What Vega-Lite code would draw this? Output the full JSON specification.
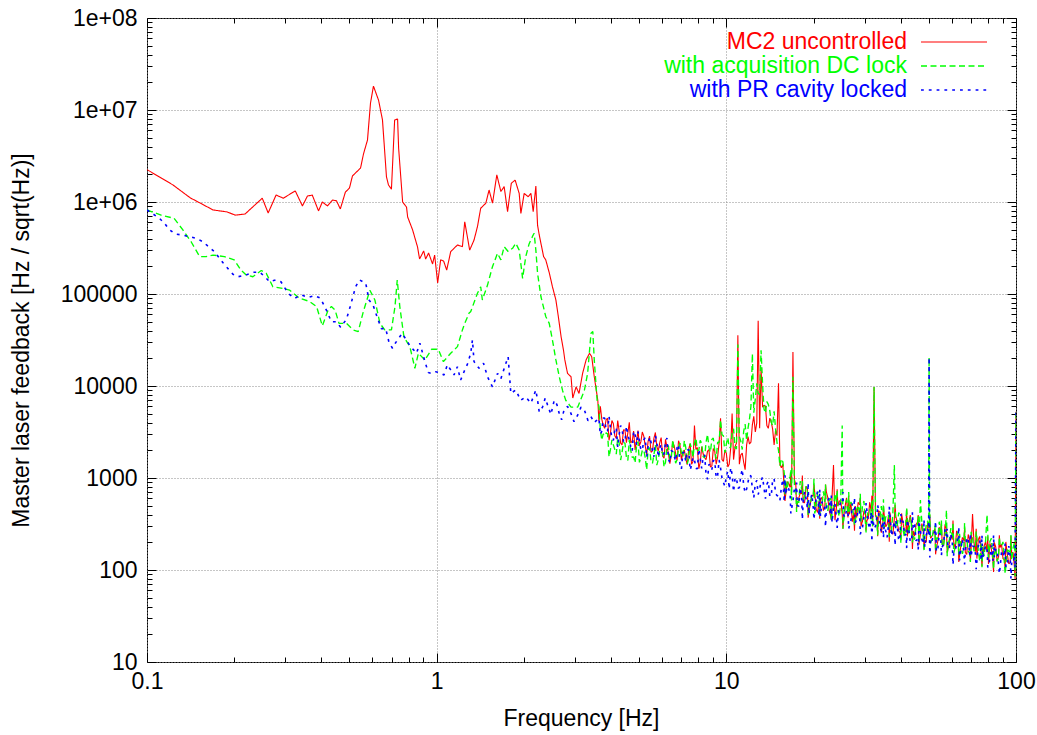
{
"$schema": "https://vega.github.io/schema/vega-lite/v6.json",
"width": 869, "height": 644,
"autosize": "none",
"padding": {"left": 147, "top": 18, "right": 21, "bottom": 73},
"background": "white",
"config": {"view": {"stroke": "black", "strokeWidth": 1}, "font": "Liberation Sans"},
"datasets": {
"red": [{"f":0.1,"v":2250000},{"f":0.123,"v":1530000},{"f":0.141,"v":1110000},{"f":0.1525,"v":975000},{"f":0.169,"v":820000},{"f":0.189,"v":780000},{"f":0.2016,"v":720000},{"f":0.218,"v":740000},{"f":0.25,"v":1100000},{"f":0.262,"v":760000},{"f":0.279,"v":1190000},{"f":0.2955,"v":1100000},{"f":0.325,"v":1320000},{"f":0.344,"v":906000},{"f":0.358,"v":1160000},{"f":0.372,"v":1190000},{"f":0.391,"v":800000},{"f":0.403,"v":1000000},{"f":0.42,"v":906000},{"f":0.437,"v":1050000},{"f":0.451,"v":1030000},{"f":0.465,"v":840000},{"f":0.484,"v":1280000},{"f":0.5,"v":1420000},{"f":0.512,"v":1920000},{"f":0.546,"v":2340000},{"f":0.559,"v":3330000},{"f":0.577,"v":4720000},{"f":0.591,"v":11900000},{"f":0.605,"v":18200000},{"f":0.63,"v":12800000},{"f":0.65,"v":7800000},{"f":0.671,"v":1870000},{"f":0.682,"v":1530000},{"f":0.698,"v":1380000},{"f":0.716,"v":7800000},{"f":0.733,"v":7980000},{"f":0.739,"v":3860000},{"f":0.763,"v":1000000},{"f":0.787,"v":880000},{"f":0.794,"v":687000},{"f":0.826,"v":497000},{"f":0.859,"v":324000},{"f":0.873,"v":240000},{"f":0.902,"v":294000},{"f":0.916,"v":240000},{"f":0.938,"v":279000},{"f":0.968,"v":212000},{"f":0.984,"v":265000},{"f":1.008,"v":132000},{"f":1.032,"v":235000},{"f":1.057,"v":228000},{"f":1.083,"v":182000},{"f":1.118,"v":288000},{"f":1.148,"v":314000},{"f":1.18,"v":341000},{"f":1.227,"v":327000},{"f":1.25,"v":610000},{"f":1.3,"v":300000},{"f":1.346,"v":386000},{"f":1.383,"v":540000},{"f":1.419,"v":855000},{"f":1.478,"v":970000},{"f":1.517,"v":1350000},{"f":1.559,"v":970000},{"f":1.613,"v":1970000},{"f":1.666,"v":1300000},{"f":1.71,"v":1470000},{"f":1.757,"v":785000},{"f":1.81,"v":1600000},{"f":1.866,"v":1730000},{"f":1.927,"v":1240000},{"f":1.953,"v":750000},{"f":2.005,"v":1240000},{"f":2.07,"v":1140000},{"f":2.115,"v":1240000},{"f":2.154,"v":785000},{"f":2.2,"v":1490000},{"f":2.23,"v":560000},{"f":2.26,"v":438000},{"f":2.34,"v":255000},{"f":2.38,"v":235000},{"f":2.45,"v":168000},{"f":2.51,"v":120000},{"f":2.58,"v":86000},{"f":2.63,"v":57000},{"f":2.69,"v":34000},{"f":2.74,"v":24600},{"f":2.77,"v":19200},{"f":2.83,"v":13700},{"f":2.91,"v":12600},{"f":2.95,"v":7400},{"f":3.03,"v":9800},{"f":3.1,"v":8300},{"f":3.19,"v":13700},{"f":3.28,"v":19200},{"f":3.37,"v":22700},{"f":3.43,"v":20800},{"f":3.5,"v":12600},{"f":3.6,"v":7000},
{"f":3.631,"v":4170},{"f":3.715,"v":4370},{"f":3.802,"v":3470},{"f":3.89,"v":4470},{"f":3.981,"v":3090},{"f":4.074,"v":3890},{"f":4.169,"v":2690},{"f":4.266,"v":3240},{"f":4.365,"v":2290},{"f":4.467,"v":3310},{"f":4.571,"v":3090},{"f":4.677,"v":2400},{"f":4.786,"v":3240},{"f":4.898,"v":2510},{"f":5.012,"v":2240},{"f":5.129,"v":3160},{"f":5.248,"v":2240},{"f":5.37,"v":2510},{"f":5.495,"v":1905},{"f":5.623,"v":2690},{"f":5.754,"v":2190},{"f":5.888,"v":2400},{"f":6.026,"v":1740},{"f":6.166,"v":2630},{"f":6.31,"v":1860},{"f":6.457,"v":1780},{"f":6.607,"v":2240},{"f":6.761,"v":1550},{"f":6.918,"v":2290},{"f":7.079,"v":1905},{"f":7.244,"v":1620},{"f":7.413,"v":2040},{"f":7.586,"v":1410},{"f":7.762,"v":3720},{"f":7.943,"v":2140},{"f":8.128,"v":1480},{"f":8.318,"v":1820},{"f":8.511,"v":1585},{"f":8.71,"v":2040},{"f":8.913,"v":1350},{"f":9.12,"v":1950},{"f":9.333,"v":1700},{"f":9.55,"v":4470},{"f":9.772,"v":1510},{"f":10.0,"v":1860},{"f":10.23,"v":1410},{"f":10.47,"v":5010},{"f":10.72,"v":2190},{"f":10.96,"v":35500},{"f":11.22,"v":1780},{"f":11.48,"v":1480},{"f":11.75,"v":2290},{"f":12.02,"v":2340},{"f":12.3,"v":3800},{"f":12.59,"v":3160},{"f":12.88,"v":51300},{"f":13.18,"v":15800},{"f":13.49,"v":6170},{"f":13.8,"v":3720},{"f":14.13,"v":4470},{"f":14.45,"v":3390},{"f":14.79,"v":3310},{"f":15.14,"v":10700},{"f":15.49,"v":1290},{"f":15.85,"v":708},{"f":16.22,"v":912},{"f":16.6,"v":794},{"f":16.98,"v":23400},{"f":17.38,"v":832},{"f":17.78,"v":603},{"f":18.2,"v":676},{"f":18.62,"v":537},{"f":19.05,"v":759},{"f":19.5,"v":525},{"f":19.95,"v":631},{"f":20.42,"v":457},{"f":20.89,"v":562},{"f":21.38,"v":617},{"f":21.88,"v":490},{"f":22.39,"v":617},{"f":22.91,"v":389},{"f":23.44,"v":1380},{"f":23.99,"v":468},{"f":24.55,"v":562},{"f":25.12,"v":407},{"f":25.7,"v":490},{"f":26.3,"v":372},{"f":26.92,"v":537},{"f":27.54,"v":417},{"f":28.18,"v":372},{"f":28.84,"v":513},{"f":29.51,"v":339},{"f":30.2,"v":437},{"f":30.9,"v":363},{"f":31.62,"v":437},{"f":32.36,"v":9770},{"f":33.11,"v":380},{"f":33.88,"v":427},{"f":34.67,"v":316},{"f":35.48,"v":295},{"f":36.31,"v":389},{"f":37.15,"v":257},{"f":38.02,"v":363},{"f":38.9,"v":324},{"f":39.81,"v":257},{"f":40.74,"v":324},{"f":41.69,"v":263},{"f":42.66,"v":331},{"f":43.65,"v":316},{"f":44.67,"v":234},{"f":45.71,"v":331},{"f":46.77,"v":245},{"f":47.86,"v":269},{"f":48.98,"v":200},{"f":50.12,"v":282},{"f":51.29,"v":234},{"f":52.48,"v":282},{"f":53.7,"v":204},{"f":54.95,"v":245},{"f":56.23,"v":182},{"f":57.54,"v":275},{"f":58.88,"v":195},{"f":60.26,"v":214},{"f":61.66,"v":170},{"f":63.1,"v":234},{"f":64.57,"v":186},{"f":66.07,"v":209},{"f":67.61,"v":148},{"f":69.18,"v":214},{"f":70.79,"v":407},{"f":72.44,"v":158},{"f":74.13,"v":214},{"f":75.86,"v":145},{"f":77.62,"v":182},{"f":79.43,"v":158},{"f":81.28,"v":195},{"f":83.18,"v":129},{"f":85.11,"v":178},{"f":87.1,"v":141},{"f":89.13,"v":191},{"f":91.2,"v":129},{"f":93.33,"v":148},{"f":95.5,"v":120},{"f":97.72,"v":155},{"f":99.3,"v":80},{"f":100,"v":5250},
{"f":3.673,"v":6030},{"f":3.758,"v":3760},{"f":3.846,"v":4315},{"f":3.936,"v":2570},{"f":4.027,"v":4217},{"f":4.121,"v":2884},{"f":4.217,"v":4217},{"f":4.315,"v":2399},{"f":4.416,"v":3350},{"f":4.519,"v":2427},{"f":4.624,"v":4027},{"f":4.732,"v":2512},{"f":4.842,"v":2018},{"f":4.955,"v":3273},{"f":5.07,"v":2483},{"f":5.188,"v":2851},{"f":5.309,"v":1799},{"f":5.433,"v":2851},{"f":5.559,"v":1972},{"f":5.689,"v":3126},{"f":5.821,"v":1972},{"f":5.957,"v":2754},{"f":6.095,"v":1641},{"f":6.237,"v":2163},{"f":6.383,"v":1429},{"f":6.531,"v":2483},{"f":6.683,"v":1841},{"f":6.839,"v":2541},{"f":6.998,"v":1567},{"f":7.161,"v":2018},{"f":7.328,"v":1396},{"f":7.499,"v":2371},{"f":7.674,"v":1514},{"f":7.852,"v":2042},{"f":8.035,"v":1259},{"f":8.222,"v":2188},{"f":8.414,"v":1660},{"f":8.61,"v":1950},{"f":8.81,"v":1318},{"f":9.016,"v":2089},{"f":9.226,"v":1413},{"f":9.441,"v":2399},{"f":9.661,"v":1585},{"f":9.886,"v":1995},
{"f":10.12,"v":1320},{"f":10.35,"v":2090},{"f":10.59,"v":1585},{"f":10.84,"v":2400},{"f":11.09,"v":1413},{"f":11.35,"v":1862},{"f":11.61,"v":1230},{"f":11.88,"v":2818},{"f":12.16,"v":2455},{"f":12.44,"v":4677},{"f":12.74,"v":3981},{"f":13.03,"v":3467},{"f":13.34,"v":5888},{"f":13.65,"v":6026},{"f":13.96,"v":3467},{"f":14.29,"v":4074},{"f":14.62,"v":2291},{"f":14.96,"v":2884},{"f":15.31,"v":1413},{"f":15.67,"v":1413},{"f":16.03,"v":661},{"f":16.41,"v":871},{"f":16.79,"v":661},{"f":17.18,"v":966},{"f":17.58,"v":519},{"f":17.99,"v":684},{"f":18.41,"v":543},{"f":18.84,"v":813},{"f":19.28,"v":432},{"f":19.73,"v":653},{"f":20.19,"v":700},{"f":20.65,"v":422},{"f":21.13,"v":582},{"f":21.63,"v":442},{"f":22.13,"v":716},{"f":22.65,"v":442},{"f":23.17,"v":624},{"f":23.71,"v":347},{"f":24.27,"v":495},{"f":24.83,"v":569},{"f":25.41,"v":376},{"f":26.0,"v":610},{"f":26.61,"v":403},{"f":27.23,"v":335},{"f":27.86,"v":495},{"f":28.51,"v":543},{"f":29.17,"v":299},{"f":29.85,"v":437},{"f":30.55,"v":343},{"f":31.26,"v":543},{"f":31.99,"v":299},{"f":32.73,"v":385},{"f":33.5,"v":442},{"f":34.28,"v":254},{"f":35.08,"v":394},{"f":35.89,"v":313},{"f":36.73,"v":422},{"f":37.58,"v":245},{"f":38.46,"v":385},{"f":39.36,"v":266},{"f":40.27,"v":412},{"f":41.21,"v":266},{"f":42.17,"v":232},{"f":43.15,"v":394},{"f":44.16,"v":266},{"f":45.19,"v":313},{"f":46.24,"v":188},{"f":47.32,"v":320},{"f":48.42,"v":211},{"f":49.55,"v":327},{"f":50.7,"v":221},{"f":51.88,"v":254},{"f":53.09,"v":174},{"f":54.33,"v":292},{"f":55.59,"v":197},{"f":56.89,"v":313},{"f":58.21,"v":168},{"f":59.57,"v":237},{"f":60.95,"v":202},{"f":62.37,"v":266},{"f":63.83,"v":143},{"f":65.31,"v":226},{"f":66.83,"v":155},{"f":68.39,"v":243},{"f":69.98,"v":172},{"f":71.61,"v":197},{"f":73.28,"v":133},{"f":74.99,"v":232},{"f":76.74,"v":145},{"f":78.52,"v":202},{"f":80.35,"v":116},{"f":82.22,"v":168},{"f":84.14,"v":200},{"f":86.1,"v":124},{"f":88.1,"v":176},{"f":90.16,"v":133},{"f":92.26,"v":202},{"f":94.41,"v":117},{"f":96.6,"v":153},{"f":98.86,"v":104},
{"f":15.94,"v":562},{"f":16.7,"v":1148},{"f":17.48,"v":468},{"f":18.3,"v":1067},{"f":19.16,"v":370},{"f":20.07,"v":847},{"f":21.01,"v":361},{"f":22.0,"v":847},{"f":23.04,"v":353},{"f":24.13,"v":755},{"f":25.27,"v":281},{"f":26.45,"v":643},{"f":27.7,"v":268},{"f":29.0,"v":614},{"f":30.37,"v":268},{"f":31.8,"v":643},{"f":33.3,"v":233},{"f":34.87,"v":488},{"f":36.52,"v":203},{"f":38.24,"v":511},{"f":40.04,"v":213},{"f":41.93,"v":455},{"f":43.9,"v":169},{"f":45.97,"v":396},{"f":48.14,"v":169},{"f":50.41,"v":396},{"f":52.78,"v":148},{"f":55.27,"v":330},{"f":57.87,"v":154},{"f":60.6,"v":345},{"f":63.46,"v":122},{"f":66.45,"v":288},{"f":69.58,"v":125},{"f":72.86,"v":281},{"f":76.3,"v":110},{"f":79.89,"v":233},{"f":83.66,"v":95},{"f":87.6,"v":239},{"f":91.73,"v":102},{"f":96.05,"v":234}],
"green": [{"f":0.1,"v":820000},{"f":0.1118,"v":720000},{"f":0.124,"v":665000},{"f":0.133,"v":497000},{"f":0.142,"v":370000},{"f":0.152,"v":255000},{"f":0.16,"v":255000},{"f":0.169,"v":265000},{"f":0.185,"v":255000},{"f":0.2,"v":235000},{"f":0.211,"v":182000},{"f":0.22,"v":161000},{"f":0.232,"v":154000},{"f":0.248,"v":180000},{"f":0.258,"v":168000},{"f":0.272,"v":120000},{"f":0.295,"v":115000},{"f":0.311,"v":110000},{"f":0.336,"v":90000},{"f":0.364,"v":83000},{"f":0.385,"v":73000},{"f":0.403,"v":45000},{"f":0.422,"v":67000},{"f":0.433,"v":73000},{"f":0.446,"v":67000},{"f":0.46,"v":48000},{"f":0.488,"v":48000},{"f":0.515,"v":40700},{"f":0.536,"v":39000},{"f":0.558,"v":64000},{"f":0.588,"v":110000},{"f":0.612,"v":86000},{"f":0.637,"v":48000},{"f":0.662,"v":40700},{"f":0.698,"v":40700},{"f":0.718,"v":73000},{"f":0.731,"v":142000},{"f":0.746,"v":73000},{"f":0.771,"v":34000},{"f":0.808,"v":26800},{"f":0.841,"v":15600},{"f":0.865,"v":22700},{"f":0.911,"v":19200},{"f":0.961,"v":25100},{"f":1.013,"v":25100},{"f":1.055,"v":18400},{"f":1.118,"v":22700},{"f":1.18,"v":26800},{"f":1.227,"v":40700},{"f":1.25,"v":48000},{"f":1.294,"v":62000},{"f":1.31,"v":64000},{"f":1.383,"v":102000},{"f":1.419,"v":120000},{"f":1.438,"v":86000},{"f":1.498,"v":125000},{"f":1.558,"v":198000},{"f":1.622,"v":277000},{"f":1.666,"v":235000},{"f":1.71,"v":327000},{"f":1.765,"v":290000},{"f":1.828,"v":314000},{"f":1.876,"v":356000},{"f":1.927,"v":300000},{"f":1.98,"v":148000},{"f":2.03,"v":255000},{"f":2.085,"v":350000},{"f":2.14,"v":420000},{"f":2.17,"v":457000},{"f":2.2,"v":300000},{"f":2.23,"v":168000},{"f":2.29,"v":94000},{"f":2.38,"v":57000},{"f":2.447,"v":48000},{"f":2.51,"v":31600},{"f":2.58,"v":19200},{"f":2.65,"v":12600},{"f":2.72,"v":8950},{"f":2.79,"v":7000},{"f":2.91,"v":5900},{"f":3.07,"v":5900},{"f":3.235,"v":8950},{"f":3.32,"v":13700},{"f":3.41,"v":37400},{"f":3.46,"v":39000},{"f":3.5,"v":19200},{"f":3.58,"v":7000},
{"f":3.631,"v":6030},{"f":3.715,"v":2570},{"f":3.802,"v":2880},{"f":3.89,"v":3020},{"f":3.981,"v":2040},{"f":4.074,"v":2290},{"f":4.169,"v":1820},{"f":4.266,"v":2400},{"f":4.365,"v":1905},{"f":4.467,"v":2400},{"f":4.571,"v":1550},{"f":4.677,"v":2000},{"f":4.786,"v":1700},{"f":4.898,"v":2240},{"f":5.012,"v":1480},{"f":5.129,"v":2000},{"f":5.248,"v":1660},{"f":5.37,"v":2040},{"f":5.495,"v":1510},{"f":5.623,"v":1780},{"f":5.754,"v":1380},{"f":5.888,"v":2000},{"f":6.026,"v":1905},{"f":6.166,"v":1480},{"f":6.31,"v":2240},{"f":6.457,"v":1660},{"f":6.607,"v":1950},{"f":6.761,"v":1585},{"f":6.918,"v":2400},{"f":7.079,"v":1700},{"f":7.244,"v":2140},{"f":7.413,"v":1620},{"f":7.586,"v":2090},{"f":7.762,"v":2400},{"f":7.943,"v":2000},{"f":8.128,"v":2570},{"f":8.318,"v":1700},{"f":8.511,"v":2450},{"f":8.71,"v":2140},{"f":8.913,"v":2630},{"f":9.12,"v":2000},{"f":9.333,"v":2450},{"f":9.55,"v":4270},{"f":9.772,"v":2880},{"f":10.0,"v":2340},{"f":10.23,"v":2140},{"f":10.47,"v":3090},{"f":10.72,"v":2140},{"f":10.96,"v":28200},{"f":11.22,"v":2510},{"f":11.48,"v":3240},{"f":11.75,"v":2570},{"f":12.02,"v":4370},{"f":12.3,"v":22400},{"f":12.59,"v":7240},{"f":12.88,"v":8320},{"f":13.18,"v":24500},{"f":13.49,"v":5620},{"f":13.8,"v":6760},{"f":14.13,"v":5370},{"f":14.45,"v":3720},{"f":14.79,"v":3390},{"f":15.14,"v":2000},{"f":15.49,"v":1620},{"f":15.85,"v":1120},{"f":16.22,"v":759},{"f":16.6,"v":1020},{"f":16.98,"v":12600},{"f":17.38,"v":724},{"f":17.78,"v":537},{"f":18.2,"v":759},{"f":18.62,"v":631},{"f":19.05,"v":741},{"f":19.5,"v":525},{"f":19.95,"v":631},{"f":20.42,"v":468},{"f":20.89,"v":708},{"f":21.38,"v":501},{"f":21.88,"v":550},{"f":22.39,"v":437},{"f":22.91,"v":603},{"f":23.44,"v":479},{"f":23.99,"v":550},{"f":24.55,"v":380},{"f":25.12,"v":3720},{"f":25.7,"v":468},{"f":26.3,"v":407},{"f":26.92,"v":550},{"f":27.54,"v":372},{"f":28.18,"v":457},{"f":28.84,"v":398},{"f":29.51,"v":490},{"f":30.2,"v":331},{"f":30.9,"v":447},{"f":31.62,"v":355},{"f":32.36,"v":9770},{"f":33.11,"v":324},{"f":33.88,"v":372},{"f":34.67,"v":295},{"f":35.48,"v":380},{"f":36.31,"v":398},{"f":37.15,"v":263},{"f":38.02,"v":1380},{"f":38.9,"v":302},{"f":39.81,"v":389},{"f":40.74,"v":275},{"f":41.69,"v":347},{"f":42.66,"v":245},{"f":43.65,"v":295},{"f":44.67,"v":214},{"f":45.71,"v":309},{"f":46.77,"v":575},{"f":47.86,"v":224},{"f":48.98,"v":309},{"f":49.95,"v":250},{"f":50.12,"v":20400},{"f":50.3,"v":230},{"f":51.29,"v":214},{"f":52.48,"v":302},{"f":53.7,"v":219},{"f":54.95,"v":245},{"f":56.23,"v":186},{"f":57.54,"v":447},{"f":58.88,"v":214},{"f":60.26,"v":234},{"f":61.66,"v":174},{"f":63.1,"v":263},{"f":64.57,"v":186},{"f":66.07,"v":170},{"f":67.61,"v":219},{"f":69.18,"v":151},{"f":70.79,"v":224},{"f":72.44,"v":186},{"f":74.13,"v":158},{"f":75.86,"v":200},{"f":77.62,"v":141},{"f":79.43,"v":398},{"f":81.28,"v":204},{"f":83.18,"v":138},{"f":85.11,"v":170},{"f":87.1,"v":145},{"f":89.13,"v":182},{"f":91.2,"v":117},{"f":93.33,"v":166},{"f":95.5,"v":145},{"f":97.72,"v":174},{"f":99.3,"v":85},{"f":100,"v":5250},
{"f":3.673,"v":3350},{"f":3.758,"v":3020},{"f":3.846,"v":3090},{"f":3.936,"v":1698},{"f":4.027,"v":2600},{"f":4.121,"v":2042},{"f":4.217,"v":2723},{"f":4.315,"v":1567},{"f":4.416,"v":2427},{"f":4.519,"v":1679},{"f":4.624,"v":2600},{"f":4.732,"v":1679},{"f":4.842,"v":1462},{"f":4.955,"v":2483},{"f":5.07,"v":1698},{"f":5.188,"v":2018},{"f":5.309,"v":1230},{"f":5.433,"v":2138},{"f":5.559,"v":1445},{"f":5.689,"v":2291},{"f":5.821,"v":1585},{"f":5.957,"v":1884},{"f":6.095,"v":1318},{"f":6.237,"v":2265},{"f":6.383,"v":1585},{"f":6.531,"v":2600},{"f":6.683,"v":1445},{"f":6.839,"v":2113},{"f":6.998,"v":1862},{"f":7.161,"v":2541},{"f":7.328,"v":1429},{"f":7.499,"v":2371},{"f":7.674,"v":1679},{"f":7.852,"v":2723},{"f":8.035,"v":1995},{"f":8.222,"v":2371},{"f":8.414,"v":1660},{"f":8.61,"v":2985},{"f":8.81,"v":1905},{"f":9.016,"v":2723},{"f":9.226,"v":1622},{"f":9.441,"v":2427},{"f":9.661,"v":2951},{"f":9.886,"v":1884},
{"f":10.12,"v":2750},{"f":10.35,"v":2160},{"f":10.59,"v":3430},{"f":10.84,"v":2070},{"f":11.09,"v":2820},{"f":11.35,"v":2040},{"f":11.61,"v":3850},{"f":11.88,"v":3470},{"f":12.16,"v":6030},{"f":12.44,"v":5130},{"f":12.74,"v":10700},{"f":13.03,"v":8040},{"f":13.34,"v":10470},{"f":13.65,"v":5070},{"f":13.96,"v":6310},{"f":14.29,"v":4030},{"f":14.62,"v":5310},{"f":14.96,"v":2430},{"f":15.31,"v":1350},{"f":15.67,"v":1500},{"f":16.03,"v":923},{"f":16.41,"v":989},{"f":16.79,"v":569},{"f":17.18,"v":841},{"f":17.58,"v":582},{"f":17.99,"v":923},{"f":18.41,"v":582},{"f":18.84,"v":813},{"f":19.28,"v":484},{"f":19.73,"v":638},{"f":20.19,"v":412},{"f":20.65,"v":700},{"f":21.13,"v":519},{"f":21.63,"v":716},{"f":22.13,"v":442},{"f":22.65,"v":569},{"f":23.17,"v":394},{"f":23.71,"v":676},{"f":24.27,"v":432},{"f":24.83,"v":569},{"f":25.41,"v":343},{"f":26.0,"v":582},{"f":26.61,"v":432},{"f":27.23,"v":495},{"f":27.86,"v":327},{"f":28.51,"v":507},{"f":29.17,"v":335},{"f":29.85,"v":562},{"f":30.55,"v":367},{"f":31.26,"v":452},{"f":31.99,"v":292},{"f":32.73,"v":452},{"f":33.5,"v":335},{"f":34.28,"v":495},{"f":35.08,"v":285},{"f":35.89,"v":367},{"f":36.73,"v":237},{"f":37.58,"v":417},{"f":38.46,"v":285},{"f":39.36,"v":422},{"f":40.27,"v":299},{"f":41.21,"v":226},{"f":42.17,"v":351},{"f":43.15,"v":376},{"f":44.16,"v":237},{"f":45.19,"v":305},{"f":46.24,"v":197},{"f":47.32,"v":327},{"f":48.42,"v":232},{"f":49.55,"v":343},{"f":50.7,"v":197},{"f":51.88,"v":279},{"f":53.09,"v":224},{"f":54.33,"v":335},{"f":55.59,"v":180},{"f":56.89,"v":237},{"f":58.21,"v":188},{"f":59.57,"v":285},{"f":60.95,"v":153},{"f":62.37,"v":232},{"f":63.83,"v":248},{"f":65.31,"v":150},{"f":66.83,"v":209},{"f":68.39,"v":160},{"f":69.98,"v":260},{"f":71.61,"v":160},{"f":73.28,"v":226},{"f":74.99,"v":124},{"f":76.74,"v":178},{"f":78.52,"v":207},{"f":80.35,"v":136},{"f":82.22,"v":221},{"f":84.14,"v":148},{"f":86.1,"v":124},{"f":88.1,"v":184},{"f":90.16,"v":202},{"f":92.26,"v":111},{"f":94.41,"v":162},{"f":96.6,"v":127},{"f":98.86,"v":202},
{"f":15.94,"v":661},{"f":16.7,"v":1230},{"f":17.48,"v":427},{"f":18.3,"v":929},{"f":19.16,"v":396},{"f":20.07,"v":973},{"f":21.01,"v":387},{"f":22.0,"v":847},{"f":23.04,"v":337},{"f":24.13,"v":738},{"f":25.27,"v":281},{"f":26.45,"v":705},{"f":27.7,"v":308},{"f":29.0,"v":673},{"f":30.37,"v":256},{"f":31.8,"v":560},{"f":33.3,"v":239},{"f":34.87,"v":586},{"f":36.52,"v":228},{"f":38.24,"v":499},{"f":40.04,"v":194},{"f":41.93,"v":476},{"f":43.9,"v":199},{"f":45.97,"v":387},{"f":48.14,"v":158},{"f":50.41,"v":406},{"f":52.78,"v":158},{"f":55.27,"v":345},{"f":57.87,"v":141},{"f":60.6,"v":330},{"f":63.46,"v":144},{"f":66.45,"v":324},{"f":69.58,"v":122},{"f":72.86,"v":262},{"f":76.3,"v":107},{"f":79.89,"v":262},{"f":83.66,"v":102},{"f":87.6,"v":228},{"f":91.73,"v":91},{"f":96.05,"v":240}],
"blue": [{"f":0.1,"v":820000},{"f":0.105,"v":740000},{"f":0.1103,"v":665000},{"f":0.1148,"v":590000},{"f":0.119,"v":506000},{"f":0.125,"v":450000},{"f":0.132,"v":438000},{"f":0.14,"v":420000},{"f":0.148,"v":403000},{"f":0.156,"v":370000},{"f":0.162,"v":333000},{"f":0.171,"v":288000},{"f":0.177,"v":250000},{"f":0.183,"v":219000},{"f":0.19,"v":190000},{"f":0.198,"v":164000},{"f":0.206,"v":154000},{"f":0.22,"v":161000},{"f":0.231,"v":172000},{"f":0.245,"v":173000},{"f":0.255,"v":154000},{"f":0.265,"v":136000},{"f":0.278,"v":142000},{"f":0.29,"v":136000},{"f":0.307,"v":102000},{"f":0.323,"v":89700},{"f":0.341,"v":98000},{"f":0.36,"v":92000},{"f":0.379,"v":96000},{"f":0.397,"v":90000},{"f":0.417,"v":66000},{"f":0.433,"v":50000},{"f":0.451,"v":50000},{"f":0.466,"v":43500},{"f":0.488,"v":53000},{"f":0.503,"v":73000},{"f":0.525,"v":120000},{"f":0.542,"v":142000},{"f":0.569,"v":131000},{"f":0.584,"v":86000},{"f":0.603,"v":76000},{"f":0.622,"v":57000},{"f":0.644,"v":42000},{"f":0.667,"v":42000},{"f":0.685,"v":29600},{"f":0.704,"v":25700},{"f":0.722,"v":29600},{"f":0.76,"v":37400},{"f":0.808,"v":27500},{"f":0.852,"v":22700},{"f":0.875,"v":29200},{"f":0.911,"v":18400},{"f":0.936,"v":14000},{"f":0.961,"v":13700},{"f":0.99,"v":14300},{"f":1.02,"v":14000},{"f":1.06,"v":13200},{"f":1.089,"v":17000},{"f":1.148,"v":13200},{"f":1.179,"v":16200},{"f":1.21,"v":11600},{"f":1.243,"v":14300},{"f":1.277,"v":17300},{"f":1.311,"v":22700},{"f":1.329,"v":31600},{"f":1.346,"v":18400},{"f":1.4,"v":15600},{"f":1.451,"v":17700},{"f":1.498,"v":12600},{"f":1.558,"v":9800},{"f":1.622,"v":13700},{"f":1.666,"v":12000},{"f":1.734,"v":17700},{"f":1.765,"v":20800},{"f":1.803,"v":8300},{"f":1.876,"v":9050},{"f":1.95,"v":7000},{"f":2.03,"v":7600},{"f":2.115,"v":6500},{"f":2.2,"v":9050},{"f":2.23,"v":7000},{"f":2.26,"v":5200},{"f":2.32,"v":5900},{"f":2.37,"v":7400},{"f":2.415,"v":6200},{"f":2.48,"v":4900},{"f":2.546,"v":7000},{"f":2.6,"v":6300},{"f":2.65,"v":5000},{"f":2.7,"v":4300},{"f":2.757,"v":5600},{"f":2.83,"v":6000},{"f":2.91,"v":5000},{"f":2.98,"v":4100},{"f":3.07,"v":4850},{"f":3.15,"v":5900},{"f":3.235,"v":5500},{"f":3.33,"v":4200},{"f":3.41,"v":4650},{"f":3.5,"v":4000},
{"f":3.631,"v":4470},{"f":3.715,"v":3240},{"f":3.802,"v":4470},{"f":3.89,"v":3240},{"f":3.981,"v":3470},{"f":4.074,"v":2570},{"f":4.169,"v":3550},{"f":4.266,"v":2950},{"f":4.365,"v":3470},{"f":4.467,"v":2450},{"f":4.571,"v":2950},{"f":4.677,"v":2190},{"f":4.786,"v":3240},{"f":4.898,"v":2290},{"f":5.012,"v":2510},{"f":5.129,"v":2000},{"f":5.248,"v":2750},{"f":5.37,"v":2190},{"f":5.495,"v":2450},{"f":5.623,"v":1700},{"f":5.754,"v":2450},{"f":5.888,"v":2090},{"f":6.026,"v":1780},{"f":6.166,"v":2400},{"f":6.31,"v":1620},{"f":6.457,"v":2000},{"f":6.607,"v":1740},{"f":6.761,"v":2140},{"f":6.918,"v":1410},{"f":7.079,"v":1905},{"f":7.244,"v":1510},{"f":7.413,"v":2040},{"f":7.586,"v":1380},{"f":7.762,"v":1585},{"f":7.943,"v":1260},{"f":8.128,"v":1620},{"f":8.318,"v":1700},{"f":8.511,"v":1100},{"f":8.71,"v":1410},{"f":8.913,"v":1230},{"f":9.12,"v":1550},{"f":9.333,"v":1070},{"f":9.55,"v":1290},{"f":9.772,"v":891},{"f":10.0,"v":1050},{"f":10.23,"v":759},{"f":10.47,"v":1100},{"f":10.72,"v":1000},{"f":10.96,"v":776},{"f":11.22,"v":1070},{"f":11.48,"v":832},{"f":11.75,"v":759},{"f":12.02,"v":1070},{"f":12.3,"v":776},{"f":12.59,"v":871},{"f":12.88,"v":661},{"f":13.18,"v":933},{"f":13.49,"v":776},{"f":13.8,"v":851},{"f":14.13,"v":631},{"f":14.45,"v":955},{"f":14.79,"v":676},{"f":15.14,"v":631},{"f":15.49,"v":794},{"f":15.85,"v":550},{"f":16.22,"v":813},{"f":16.6,"v":676},{"f":16.98,"v":562},{"f":17.38,"v":708},{"f":17.78,"v":490},{"f":18.2,"v":631},{"f":18.62,"v":708},{"f":19.05,"v":468},{"f":19.5,"v":562},{"f":19.95,"v":479},{"f":20.42,"v":603},{"f":20.89,"v":389},{"f":21.38,"v":550},{"f":21.88,"v":468},{"f":22.39,"v":562},{"f":22.91,"v":398},{"f":23.44,"v":479},{"f":23.99,"v":363},{"f":24.55,"v":479},{"f":25.12,"v":537},{"f":25.7,"v":372},{"f":26.3,"v":417},{"f":26.92,"v":339},{"f":27.54,"v":447},{"f":28.18,"v":355},{"f":28.84,"v":447},{"f":29.51,"v":288},{"f":30.2,"v":380},{"f":30.9,"v":324},{"f":31.62,"v":427},{"f":32.36,"v":282},{"f":33.11,"v":372},{"f":33.88,"v":309},{"f":34.67,"v":372},{"f":35.48,"v":269},{"f":36.31,"v":309},{"f":37.15,"v":234},{"f":38.02,"v":339},{"f":38.9,"v":309},{"f":39.81,"v":234},{"f":40.74,"v":339},{"f":41.69,"v":245},{"f":42.66,"v":275},{"f":43.65,"v":219},{"f":44.67,"v":316},{"f":45.71,"v":219},{"f":46.77,"v":263},{"f":47.86,"v":191},{"f":48.98,"v":234},{"f":49.95,"v":240},{"f":50.12,"v":20400},{"f":50.3,"v":215},{"f":51.29,"v":204},{"f":52.48,"v":257},{"f":53.7,"v":166},{"f":54.95,"v":234},{"f":56.23,"v":195},{"f":57.54,"v":234},{"f":58.88,"v":170},{"f":60.26,"v":204},{"f":61.66,"v":155},{"f":63.1,"v":224},{"f":64.57,"v":174},{"f":66.07,"v":155},{"f":67.61,"v":219},{"f":69.18,"v":145},{"f":70.79,"v":182},{"f":72.44,"v":151},{"f":74.13,"v":182},{"f":75.86,"v":126},{"f":77.62,"v":162},{"f":79.43,"v":182},{"f":81.28,"v":135},{"f":83.18,"v":126},{"f":85.11,"v":170},{"f":87.1,"v":112},{"f":89.13,"v":155},{"f":91.2,"v":138},{"f":93.33,"v":110},{"f":95.5,"v":141},{"f":97.72,"v":115},{"f":99.3,"v":105},{"f":100,"v":5250},
{"f":3.673,"v":2950},{"f":3.758,"v":4470},{"f":3.846,"v":3240},{"f":3.936,"v":4680},{"f":4.027,"v":2660},{"f":4.121,"v":3390},{"f":4.217,"v":2160},{"f":4.315,"v":3720},{"f":4.416,"v":2480},{"f":4.519,"v":3670},{"f":4.624,"v":2600},{"f":4.732,"v":1950},{"f":4.842,"v":2990},{"f":4.955,"v":3200},{"f":5.07,"v":2020},{"f":5.188,"v":2600},{"f":5.309,"v":1680},{"f":5.433,"v":2790},{"f":5.559,"v":1970},{"f":5.689,"v":2920},{"f":5.821,"v":1680},{"f":5.957,"v":2340},{"f":6.095,"v":1840},{"f":6.237,"v":2720},{"f":6.383,"v":1460},{"f":6.531,"v":1930},{"f":6.683,"v":1530},{"f":6.839,"v":2320},{"f":6.998,"v":1245},{"f":7.161,"v":1880},{"f":7.328,"v":2020},{"f":7.499,"v":1220},{"f":7.674,"v":1680},{"f":7.852,"v":1270},{"f":8.035,"v":2070},{"f":8.222,"v":1270},{"f":8.414,"v":1780},{"f":8.61,"v":966},{"f":8.81,"v":1365},{"f":9.016,"v":1550},{"f":9.226,"v":1000},{"f":9.441,"v":1570},{"f":9.661,"v":1000},{"f":9.886,"v":813},
{"f":10.12,"v":1190},{"f":10.35,"v":1300},{"f":10.59,"v":708},{"f":10.84,"v":1010},{"f":11.09,"v":785},{"f":11.35,"v":1245},{"f":11.61,"v":692},{"f":11.88,"v":902},{"f":12.16,"v":1050},{"f":12.44,"v":610},{"f":12.74,"v":944},{"f":13.03,"v":750},{"f":13.34,"v":1020},{"f":13.65,"v":596},{"f":13.96,"v":923},{"f":14.29,"v":638},{"f":14.62,"v":989},{"f":14.96,"v":646},{"f":15.31,"v":569},{"f":15.67,"v":966},{"f":16.03,"v":653},{"f":16.41,"v":767},{"f":16.79,"v":457},{"f":17.18,"v":767},{"f":17.58,"v":507},{"f":17.99,"v":785},{"f":18.41,"v":531},{"f":18.84,"v":603},{"f":19.28,"v":403},{"f":19.73,"v":668},{"f":20.19,"v":452},{"f":20.65,"v":716},{"f":21.13,"v":385},{"f":21.63,"v":543},{"f":22.13,"v":462},{"f":22.65,"v":610},{"f":23.17,"v":327},{"f":23.71,"v":525},{"f":24.27,"v":359},{"f":24.83,"v":556},{"f":25.41,"v":394},{"f":26.0,"v":452},{"f":26.61,"v":305},{"f":27.23,"v":531},{"f":27.86,"v":327},{"f":28.51,"v":452},{"f":29.17,"v":260},{"f":29.85,"v":380},{"f":30.55,"v":452},{"f":31.26,"v":279},{"f":31.99,"v":394},{"f":32.73,"v":299},{"f":33.5,"v":452},{"f":34.28,"v":260},{"f":35.08,"v":335},{"f":35.89,"v":226},{"f":36.73,"v":385},{"f":37.58,"v":282},{"f":38.46,"v":343},{"f":39.36,"v":207},{"f":40.27,"v":343},{"f":41.21,"v":237},{"f":42.17,"v":351},{"f":43.15,"v":202},{"f":44.16,"v":285},{"f":45.19,"v":207},{"f":46.24,"v":343},{"f":47.32,"v":216},{"f":48.42,"v":176},{"f":49.55,"v":285},{"f":50.7,"v":216},{"f":51.88,"v":248},{"f":53.09,"v":158},{"f":54.33,"v":254},{"f":55.59,"v":176},{"f":56.89,"v":279},{"f":58.21,"v":176},{"f":59.57,"v":248},{"f":60.95,"v":150},{"f":62.37,"v":197},{"f":63.83,"v":127},{"f":65.31,"v":216},{"f":66.83,"v":162},{"f":68.39,"v":226},{"f":69.98,"v":140},{"f":71.61,"v":180},{"f":73.28,"v":124},{"f":74.99,"v":211},{"f":76.74,"v":135},{"f":78.52,"v":180},{"f":80.35,"v":108},{"f":82.22,"v":184},{"f":84.14,"v":138},{"f":86.1,"v":160},{"f":88.1,"v":106},{"f":90.16,"v":164},{"f":92.26,"v":108},{"f":94.41,"v":182},{"f":96.6,"v":119},{"f":98.86,"v":146},
{"f":15.94,"v":1072},{"f":16.7,"v":412},{"f":17.48,"v":891},{"f":18.3,"v":353},{"f":19.16,"v":887},{"f":20.07,"v":353},{"f":21.01,"v":755},{"f":22.0,"v":294},{"f":23.04,"v":643},{"f":24.13,"v":287},{"f":25.27,"v":705},{"f":26.45,"v":281},{"f":27.7,"v":614},{"f":29.0,"v":244},{"f":30.37,"v":535},{"f":31.8,"v":203},{"f":33.3,"v":511},{"f":34.87,"v":223},{"f":36.52,"v":488},{"f":38.24,"v":185},{"f":40.04,"v":406},{"f":41.93,"v":173},{"f":43.9,"v":425},{"f":45.97,"v":165},{"f":48.14,"v":353},{"f":50.41,"v":137},{"f":52.78,"v":339},{"f":55.27,"v":144},{"f":57.87,"v":281},{"f":60.6,"v":114},{"f":63.46,"v":294},{"f":66.45,"v":115},{"f":69.58,"v":250},{"f":72.86,"v":102},{"f":76.3,"v":240},{"f":79.89,"v":107},{"f":83.66,"v":240},{"f":87.6,"v":91},{"f":91.73,"v":194},{"f":96.05,"v":81}]
},
"layer": [
{
"data": {"name": "red"},
"mark": {"type": "line", "clip": true, "strokeJoin": "bevel"},
"encoding": {
"x": {"field": "f", "type": "quantitative", "scale": {"type": "log", "domain": [0.1, 100], "nice": false},
 "axis": {"orient": "bottom", "values": [0.1,0.2,0.3,0.4,0.5,0.6,0.7,0.8,0.9,1,2,3,4,5,6,7,8,9,10,20,30,40,50,60,70,80,90,100],
  "labelExpr": "abs(log(datum.value)/LN10 - round(log(datum.value)/LN10)) < 0.01 ? '' + datum.value : ''",
  "labelFont": "Liberation Sans", "labelFontSize": 23, "labelColor": "black", "labelPadding": 17, "labelFlush": false, "labelOverlap": false, "labelBound": false,
  "domain": false, "tickColor": "black", "tickWidth": 1,
  "tickSize": {"condition": {"test": "abs(log(datum.value)/LN10 - round(log(datum.value)/LN10)) < 0.01", "value": -9}, "value": -5},
  "grid": true, "gridColor": "#8c8c8c", "gridDash": [1, 2], "gridWidth": 1,
  "gridOpacity": {"condition": {"test": "abs(log(datum.value)/LN10 - round(log(datum.value)/LN10)) < 0.01", "value": 1}, "value": 0},
  "title": "Frequency [Hz]", "titleFont": "Liberation Sans", "titleFontSize": 23, "titleFontWeight": "normal", "titleColor": "black",
  "titleX": 434, "titleY": 56, "titleBaseline": "middle", "titleAlign": "center"}},
"y": {"field": "v", "type": "quantitative", "scale": {"type": "log", "domain": [10, 100000000], "nice": false},
 "axis": {"orient": "left", "values": [10,20,30,40,50,60,70,80,90,100,200,300,400,500,600,700,800,900,1000,2000,3000,4000,5000,6000,7000,8000,9000,10000,20000,30000,40000,50000,60000,70000,80000,90000,100000,200000,300000,400000,500000,600000,700000,800000,900000,1000000,2000000,3000000,4000000,5000000,6000000,7000000,8000000,9000000,10000000,20000000,30000000,40000000,50000000,60000000,70000000,80000000,90000000,100000000],
  "labelExpr": "abs(log(datum.value)/LN10 - round(log(datum.value)/LN10)) < 0.01 ? (datum.value >= 1000000 ? '1e+0' + round(log(datum.value)/LN10) : format(datum.value, 'd')) : ''",
  "labelFont": "Liberation Sans", "labelFontSize": 23, "labelColor": "black", "labelPadding": 19, "labelFlush": false, "labelOverlap": false, "labelBound": false, "labelBaseline": "middle",
  "domain": false, "tickColor": "black", "tickWidth": 1,
  "tickSize": {"condition": {"test": "abs(log(datum.value)/LN10 - round(log(datum.value)/LN10)) < 0.01", "value": -9}, "value": -5},
  "grid": true, "gridColor": "#8c8c8c", "gridDash": [1, 2], "gridWidth": 1,
  "gridOpacity": {"condition": {"test": "abs(log(datum.value)/LN10 - round(log(datum.value)/LN10)) < 0.01", "value": 1}, "value": 0},
  "title": "Master laser feedback [Hz / sqrt(Hz)]", "titleFont": "Liberation Sans", "titleFontSize": 23, "titleFontWeight": "normal", "titleColor": "black",
  "titleX": -126, "titleY": 322, "titleAngle": -90, "titleBaseline": "middle", "titleAlign": "center"}},
"color": {"datum": "MC2 uncontrolled", "type": "nominal",
 "scale": {"domain": ["MC2 uncontrolled", "with acquisition DC lock", "with PR cavity locked"], "range": ["#ff0000", "#00ff00", "#0000ff"]},
 "legend": {"orient": "none", "legendX": 795, "legendY": 12, "title": null, "symbolType": "M-3,0H3", "symbolSize": 484, "labelFont": "Liberation Sans", "labelFontSize": 23, "labelAlign": "right", "labelOffset": -59, "labelLimit": 0, "rowPadding": 0, "padding": 0,
  "labelColor": {"expr": "datum.value == 'MC2 uncontrolled' ? '#ff0000' : (datum.value == 'with acquisition DC lock' ? '#00ff00' : '#0000ff')"}}},
"strokeDash": {"datum": "MC2 uncontrolled", "type": "nominal",
 "scale": {"domain": ["MC2 uncontrolled", "with acquisition DC lock", "with PR cavity locked"], "range": [[1, 0], [6, 3.5], [2.8, 5]]}},
"strokeWidth": {"datum": "MC2 uncontrolled", "type": "ordinal",
 "scale": {"domain": ["MC2 uncontrolled", "with acquisition DC lock", "with PR cavity locked"], "range": [1.1, 1.6, 2.8]}}
}
},
{
"data": {"name": "green"},
"mark": {"type": "line", "clip": true, "strokeJoin": "bevel"},
"encoding": {
"x": {"field": "f", "type": "quantitative", "scale": {"type": "log", "domain": [0.1, 100], "nice": false},
 "axis": {"orient": "top", "values": [0.1,0.2,0.3,0.4,0.5,0.6,0.7,0.8,0.9,1,2,3,4,5,6,7,8,9,10,20,30,40,50,60,70,80,90,100],
  "labels": false, "domain": false, "grid": false, "title": null, "tickColor": "black", "tickWidth": 1,
  "tickSize": {"condition": {"test": "abs(log(datum.value)/LN10 - round(log(datum.value)/LN10)) < 0.01", "value": -9}, "value": -5}}},
"y": {"field": "v", "type": "quantitative", "scale": {"type": "log", "domain": [10, 100000000], "nice": false},
 "axis": {"orient": "right", "values": [10,20,30,40,50,60,70,80,90,100,200,300,400,500,600,700,800,900,1000,2000,3000,4000,5000,6000,7000,8000,9000,10000,20000,30000,40000,50000,60000,70000,80000,90000,100000,200000,300000,400000,500000,600000,700000,800000,900000,1000000,2000000,3000000,4000000,5000000,6000000,7000000,8000000,9000000,10000000,20000000,30000000,40000000,50000000,60000000,70000000,80000000,90000000,100000000],
  "labels": false, "domain": false, "grid": false, "title": null, "tickColor": "black", "tickWidth": 1,
  "tickSize": {"condition": {"test": "abs(log(datum.value)/LN10 - round(log(datum.value)/LN10)) < 0.01", "value": -9}, "value": -5}}},
"color": {"datum": "with acquisition DC lock", "type": "nominal"},
"strokeDash": {"datum": "with acquisition DC lock", "type": "nominal"},
"strokeWidth": {"datum": "with acquisition DC lock", "type": "ordinal"}
}
},
{
"data": {"name": "blue"},
"mark": {"type": "line", "clip": true, "strokeJoin": "bevel"},
"encoding": {
"x": {"field": "f", "type": "quantitative", "scale": {"type": "log", "domain": [0.1, 100], "nice": false}, "axis": null},
"y": {"field": "v", "type": "quantitative", "scale": {"type": "log", "domain": [10, 100000000], "nice": false}, "axis": null},
"color": {"datum": "with PR cavity locked", "type": "nominal"},
"strokeDash": {"datum": "with PR cavity locked", "type": "nominal"},
"strokeWidth": {"datum": "with PR cavity locked", "type": "ordinal"}
}
}
],
"resolve": {"axis": {"x": "independent", "y": "independent"}}
}
